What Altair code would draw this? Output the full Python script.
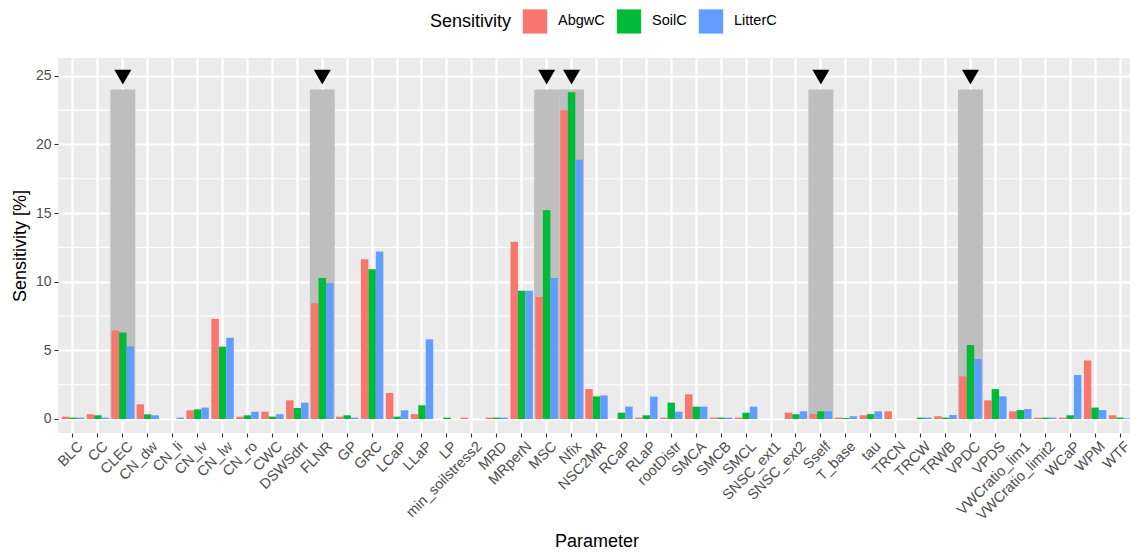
import altair as alt
import pandas as pd

params = ["BLC", "CC", "CLEC", "CN_dw", "CN_li", "CN_lv", "CN_lw", "CN_ro", "CWC",
          "DSWSdrt", "FLNR", "GP", "GRC", "LCaP", "LLaP", "LP", "min_soilstress2",
          "MRD", "MRperN", "MSC", "Nfix", "NSC2MR", "RCaP", "RLaP", "rootDistr",
          "SMCA", "SMCB", "SMCL", "SNSC_ext1", "SNSC_ext2", "Sself", "T_base", "tau",
          "TRCN", "TRCW", "TRWB", "VPDC", "VPDS", "VWCratio_lim1", "VWCratio_limit2",
          "WCaP", "WPM", "WTF"]

abgw_c = [0.17, 0.35, 6.45, 1.07, 0.0, 0.63, 7.3, 0.17, 0.53,
          1.36, 8.43, 0.17, 11.64, 1.9, 0.35, 0.0, 0.1,
          0.1, 12.92, 8.89, 22.5, 2.18, 0.0, 0.1, 0.1,
          1.8, 0.1, 0.1, 0.0, 0.46, 0.36, 0.1, 0.27,
          0.56, 0.0, 0.2, 3.1, 1.36, 0.56, 0.1,
          0.1, 4.27, 0.27]
soil_c = [0.1, 0.27, 6.3, 0.34, 0.0, 0.7, 5.27, 0.27, 0.17,
          0.8, 10.28, 0.27, 10.91, 0.17, 1.0, 0.1, 0.0,
          0.1, 9.35, 15.21, 23.8, 1.65, 0.46, 0.27, 1.19,
          0.9, 0.1, 0.46, 0.0, 0.35, 0.56, 0.07, 0.36,
          0.0, 0.1, 0.1, 5.39, 2.18, 0.65, 0.1,
          0.27, 0.83, 0.1]
litter_c = [0.1, 0.1, 5.3, 0.27, 0.1, 0.83, 5.92, 0.53, 0.35,
            1.19, 9.89, 0.1, 12.2, 0.63, 5.8, 0.0, 0.0,
            0.1, 9.35, 10.28, 18.88, 1.72, 0.9, 1.63, 0.53,
            0.9, 0.1, 0.9, 0.0, 0.56, 0.56, 0.2, 0.56,
            0.0, 0.1, 0.29, 4.37, 1.65, 0.73, 0.1,
            3.2, 0.65, 0.05]

series = ["AbgwC", "SoilC", "LitterC"]
colors = ["#F8766D", "#00BA38", "#619CFF"]

highlighted = ["CLEC", "FLNR", "MSC", "Nfix", "Sself", "VPDC"]
highlight_top = [24, 24, 24, 24, 24, 24]
marker_level = [24.9, 24.9, 24.9, 24.9, 24.9, 24.9]

major_ticks = [0, 5, 10, 15, 20, 25]
minor_ticks = [2.5, 7.5, 12.5, 17.5, 22.5]

rows = []
for i, p in enumerate(params):
    for s, vals in zip(series, [abgw_c, soil_c, litter_c]):
        rows.append({"Parameter": p, "Sensitivity": s, "value": vals[i]})
df = pd.DataFrame(rows)

hl = pd.DataFrame({"Parameter": highlighted, "top": highlight_top,
                   "marker": marker_level})
minor_df = pd.DataFrame({"y": minor_ticks})

FONT = "Liberation Sans"

x_scale = alt.Scale(domain=params, paddingInner=0.1, paddingOuter=0.15)
y_scale = alt.Scale(domain=[-1.02, 26.3], nice=False, zero=False)

x_axis = alt.Axis(title="Parameter", labelAngle=-45, labelAlign="right",
                  labelBaseline="top", bandPosition=0.5, labelPadding=2,
                  labelOffset=3, titlePadding=10, labelFontSize=14.5, titleFontSize=18)
y_axis = alt.Axis(title="Sensitivity [%]", values=major_ticks, labelFontSize=14,
                  titleFontSize=18, titlePadding=6, labelPadding=3)

minor = alt.Chart(minor_df).mark_rule(color="white", strokeWidth=1.1).encode(
    y=alt.Y("y:Q", scale=y_scale, axis=y_axis)
)

rects = alt.Chart(hl).mark_bar(color="#BEBEBE",
                               width=alt.RelativeBandSize(band=1.0 / 0.9)).encode(
    x=alt.X("Parameter:N", scale=x_scale, axis=x_axis, sort=params),
    y=alt.Y("top:Q", scale=y_scale, axis=y_axis),
    y2=alt.datum(0),
)

bars = alt.Chart(df).mark_bar().encode(
    x=alt.X("Parameter:N", scale=x_scale, axis=x_axis, sort=params),
    xOffset=alt.XOffset("Sensitivity:N",
                        scale=alt.Scale(domain=series, paddingInner=0, paddingOuter=0)),
    y=alt.Y("value:Q", scale=y_scale, axis=y_axis),
    y2=alt.datum(0),
    color=alt.Color("Sensitivity:N",
                    scale=alt.Scale(domain=series, range=colors),
                    legend=alt.Legend(title="Sensitivity", orient="none",
                                      direction="horizontal", titleOrient="left",
                                      legendX=372, legendY=-50,
                                      symbolType="square", symbolSize=620,
                                      symbolStrokeWidth=0.8, symbolStrokeColor="#F2F2F2",
                                      symbolOpacity=1,
                                      labelFontSize=14.5, titleFontSize=18,
                                      titleFontWeight="normal", titlePadding=10,
                                      labelOffset=10, columnPadding=9,
                                      titleColor="black", labelColor="black",
                                      titleBaseline="middle", titleAnchor="middle")),
)

markers = alt.Chart(hl).mark_point(shape="triangle-down", filled=True,
                                   color="black", opacity=1, size=289).encode(
    x=alt.X("Parameter:N", scale=x_scale, axis=x_axis, sort=params),
    y=alt.Y("marker:Q", scale=y_scale, axis=y_axis),
)

chart = alt.layer(minor, rects, bars, markers).properties(
    width=1077, height=375,
    autosize=alt.AutoSizeParams(type="none"),
    padding={"left": 50, "top": 50, "right": -5, "bottom": 118},
).configure(
    font=FONT,
).configure_view(
    fill="#EBEBEB", stroke=None,
).configure_axis(
    grid=True, gridColor="white", gridWidth=2.2, gridOpacity=1,
    domain=False, tickColor="#333333", tickSize=4, tickWidth=1.1,
    labelColor="#4D4D4D", titleColor="black", titleFontWeight="normal",
    labelFont=FONT, titleFont=FONT,
).configure_legend(
    labelFont=FONT, titleFont=FONT,
)

chart.save("out.html", embed_options={"renderer": "svg", "actions": False})
